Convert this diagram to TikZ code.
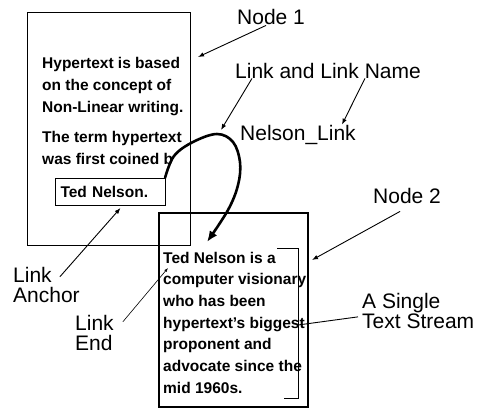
\documentclass[tikz,border=0pt]{standalone}
\usepackage{fontspec}
\setmainfont{Liberation Sans}
\usetikzlibrary{positioning}
\usetikzlibrary{arrows.meta}

\begin{document}
\begin{tikzpicture}[x=1pt, y=-1pt,
        lbl/.style={font=\fontsize{21}{20.5}\selectfont, inner sep=0pt, align=left},
        txt/.style={inner sep=0pt, align=left, anchor=north west},
        ptr/.style={-{Latex[length=6pt,width=4.5pt]}, line width=0.9pt},
        box/.style={draw, rectangle, inner sep=0pt}]
    \useasboundingbox (0,0) rectangle (478,412);

    % the two nodes
    \node[box, line width=0.7pt, minimum width=163pt, minimum height=233pt] (node1) at (108.5,128.5) {};
    \node[box, line width=2.8pt, minimum width=149pt, minimum height=194pt] (node2) at (233.5,310) {};

    \node[txt, font=\fontsize{15.5}{22}\selectfont\bfseries] (para1) at (42,56.7) {Hypertext is based\\on the concept of\\Non-Linear writing.};
    \node[txt, font=\fontsize{15.5}{22}\selectfont\bfseries] (para2) at (42,130.7) {The term hypertext\\was first coined b};
    \node[txt, font=\fontsize{15.5}{21.7}\selectfont\bfseries] (stream) at (163,251.7) {Ted Nelson is a\\computer visionary\\who has been\\hypertext's biggest\\proponent and\\advocate since the\\mid 1960s.};

    \node[box, line width=1pt, anchor=north west, text width=100pt, align=left, inner xsep=5pt, minimum height=27pt,
          font=\fontsize{15.5}{18}\selectfont\bfseries] (anchorbox) at (55,178) {Ted Nelson.};

    % the link
    \coordinate (linkend) at (207,242);
    \draw[line width=2.6pt, -{Latex[length=11pt,width=9pt]}] plot[smooth, tension=0.6] coordinates
        {([xshift=-1pt]anchorbox.north east) (174,156) (193,142) (217,134) (233,142) (240,162) (238,185) (228,210) (linkend)};

    % text stream bracket
    \coordinate (streampt) at (298,325);
    \draw[line width=0.9pt] (277,248) -| (298,398) -- (284,398);

    % labels
    \node[lbl, anchor=base west] (lbln1) at (237,25) {Node 1};
    \node[lbl, anchor=base west] (lbllink) at (235,78) {Link and Link Name};
    \node[lbl, anchor=base west] (lblname) at (240,140) {Nelson\_Link};
    \node[lbl, anchor=base west] (lbln2) at (373,203) {Node 2};
    \node[lbl, anchor=north west] (lblstream) at (362,292.7) {A Single\\Text Stream};
    \node[lbl, anchor=north west] (lblanchor) at (13,266.7) {Link\\Anchor};
    \node[lbl, anchor=north west] (lblend) at (75,314.7) {Link\\End};

    \coordinate (n1tip) at (198,57);
    \coordinate (linkpt) at (221,130);
    \coordinate (n2tip) at (312,260);
    \coordinate (endpt) at (168,268);

    \draw[ptr] ([xshift=-5pt]lbln1.south) -- (n1tip);
    \draw[ptr] ([xshift=17pt]lbllink.south west) -- (linkpt);
    \draw[ptr] ([xshift=-56pt]lbllink.south east) -- ([xshift=-14pt]lblname.north east);
    \draw[ptr] ([xshift=-7pt,yshift=-8pt]lbln2.south) -- (n2tip);
    \draw[line width=0.9pt] (streampt) -- ([xshift=-4pt,yshift=-6pt]lblstream.west);
    \draw[ptr] ([xshift=-20pt,yshift=-10pt]lblanchor.north east) -- ([xshift=10pt,yshift=-2pt]anchorbox.south);
    \draw[ptr, line width=0.6pt, -{Latex[length=4pt,width=3pt]}] ([xshift=9pt,yshift=-7pt]lblend.north east) -- (endpt);
\end{tikzpicture}
\end{document}
